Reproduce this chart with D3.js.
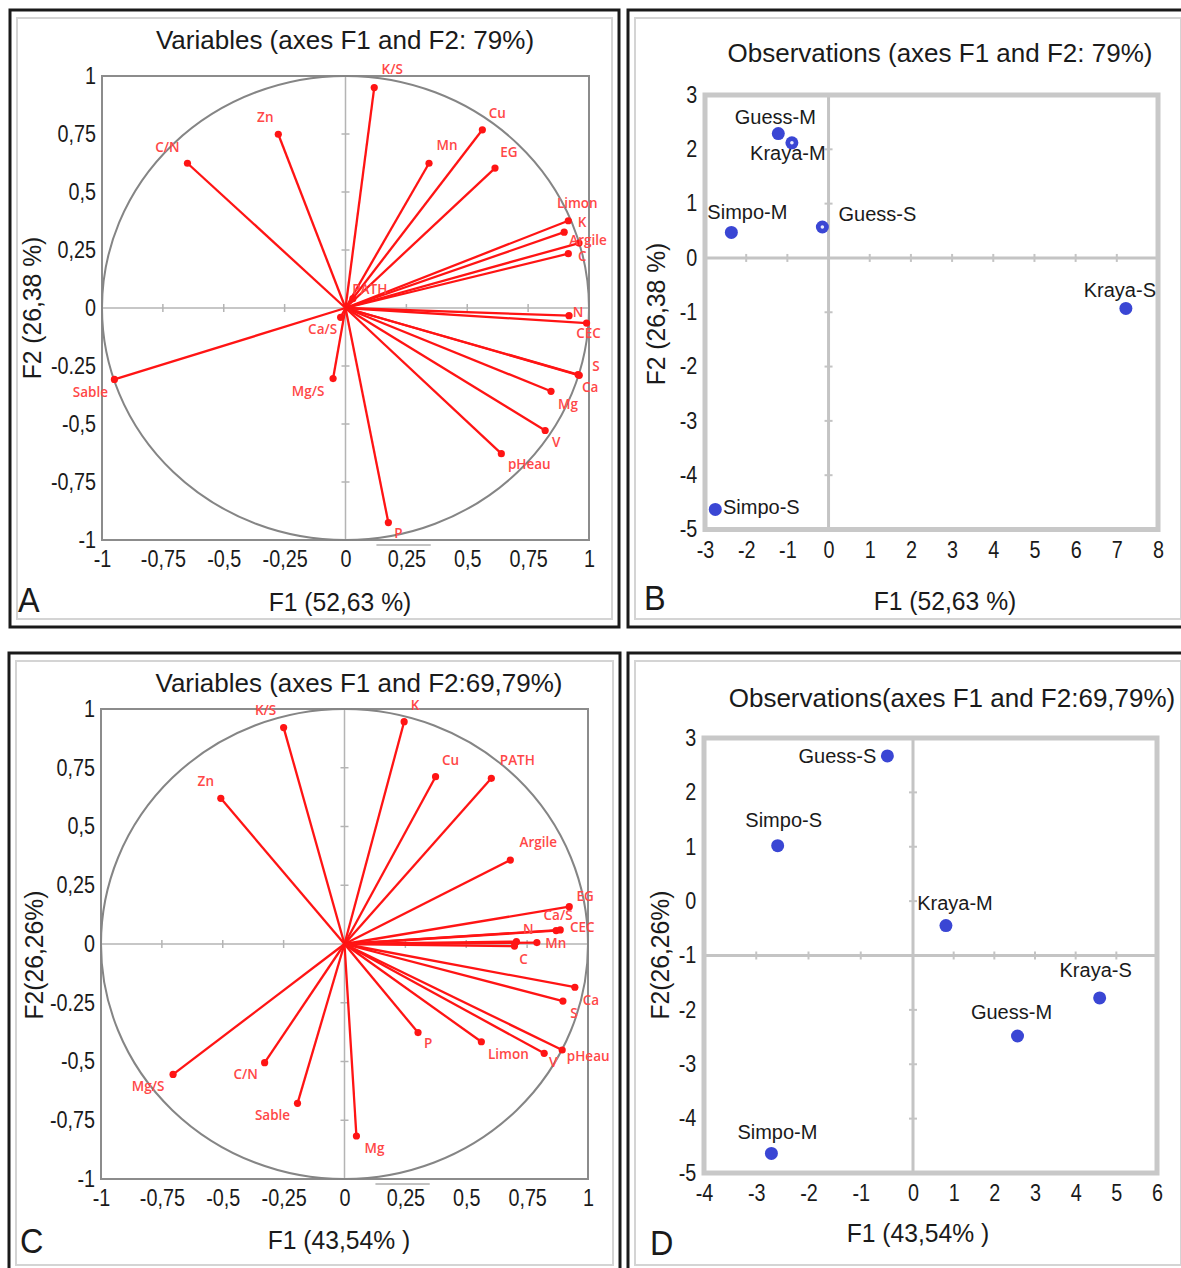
<!DOCTYPE html>
<html>
<head>
<meta charset="utf-8">
<script src="https://cdn.jsdelivr.net/npm/d3@7"></script>
<style>
  body { margin: 0; background: #fff; }
</style>
</head>
<body>
<svg id="chart" width="1181" height="1268"></svg>
<script>
// ---------- data ----------
// A : variables, axes F1 and F2 (79 %)
const varsA = ["K/S","Zn","C/N","Cu","Mn","EG","Limon","K","Argile","C","PATH","N","CEC","S","Ca","Mg","V","pHeau","P","Mg/S","Ca/S","Sable"];
const f1A = [0.118,-0.276,-0.649,0.562,0.343,0.614,0.915,0.898,0.959,0.915,0.03,0.918,0.99,0.955,0.96,0.844,0.82,0.64,0.176,-0.051,-0.02,-0.949];
const f2A = [0.95,0.749,0.624,0.768,0.624,0.603,0.376,0.327,0.28,0.234,0.04,-0.033,-0.065,-0.287,-0.29,-0.359,-0.528,-0.628,-0.925,-0.304,-0.04,-0.308];

// B : observations, axes F1 and F2 (79 %)
const obsB = ["Guess-M","Kraya-M","Simpo-M","Guess-S","Kraya-S","Simpo-S"];
const f1B = [-1.22,-0.89,-2.36,-0.15,7.22,-2.75];
const f2B = [2.29,2.12,0.47,0.57,-0.93,-4.63];

// C : variables, axes F1 and F2 (69,79 %)
const varsC = ["K/S","K","Zn","Cu","PATH","Argile","EG","Ca/S","CEC","N","Mn","C","Ca","S","P","Limon","V","pHeau","Mg/S","C/N","Sable","Mg"];
const f1C = [-0.25,0.245,-0.508,0.374,0.603,0.681,0.923,0.869,0.886,0.706,0.79,0.698,0.946,0.897,0.302,0.562,0.82,0.894,-0.704,-0.328,-0.193,0.049];
const f2C = [0.921,0.946,0.62,0.712,0.705,0.357,0.159,0.057,0.06,0.01,0.006,-0.009,-0.184,-0.243,-0.377,-0.416,-0.465,-0.451,-0.555,-0.505,-0.678,-0.817];

// D : observations, axes F1 and F2 (69,79 %)
const obsD = ["Guess-S","Simpo-S","Kraya-M","Kraya-S","Guess-M","Simpo-M"];
const f1D = [-0.49,-2.59,0.81,4.59,2.57,-2.71];
const f2D = [2.67,1.02,-0.45,-1.78,-2.48,-4.64];

// ticks
const circleTicks = [-1,-0.75,-0.5,-0.25,0,0.25,0.5,0.75,1];
const circleXLabels = ["-1","-0,75","-0,5","-0,25","0","0,25","0,5","0,75","1"];
const circleYLabels = ["-1","-0,75","-0,5","-0.25","0","0,25","0,5","0,75","1"];
const ticksBx = [-3,-2,-1,0,1,2,3,4,5,6,7,8];
const ticksBy = [-5,-4,-3,-2,-1,0,1,2,3];
const ticksDx = [-4,-3,-2,-1,0,1,2,3,4,5,6];
const ticksDy = [-5,-4,-3,-2,-1,0,1,2,3];

// ---------- label placement (px offset from the point) ----------
const labOffA = {
  "K/S":[18,-18], "Zn":[-13,-17], "C/N":[-20,-16], "Cu":[15,-17], "Mn":[18,-18], "EG":[14,-16],
  "Limon":[9,-17], "K":[18,-10], "Argile":[9,-3], "C":[14,3], "PATH":[17,-9], "N":[9,-3],
  "CEC":[2,10], "S":[18,-8], "Ca":[11,12], "Mg":[17,13], "V":[11,12], "pHeau":[28,11],
  "P":[10,11], "Mg/S":[-25,13], "Ca/S":[-18,12], "Sable":[-24,13]
};
const labOffC = {
  "K/S":[-18,-17], "K":[11,-16], "Zn":[-15,-17], "Cu":[15,-16], "PATH":[26,-18], "Argile":[28,-18],
  "EG":[16,-10], "Ca/S":[2,-15], "CEC":[22,-3], "N":[12,-12], "Mn":[19,1], "C":[9,13],
  "Ca":[16,13], "S":[11,12], "P":[10,11], "Limon":[27,13], "V":[9,9], "pHeau":[26,6],
  "Mg/S":[-25,12], "C/N":[-19,12], "Sable":[-25,12], "Mg":[18,12]
};
const labOffB = {
  "Guess-M":[-3,-17], "Kraya-M":[-4,10], "Simpo-M":[16,-20],
  "Guess-S":[55,-13], "Kraya-S":[-6,-18], "Simpo-S":[46,-2]
};
const labOffD = {
  "Guess-S":[-50,0], "Simpo-S":[6,-26], "Kraya-M":[9,-23],
  "Kraya-S":[-4,-28], "Guess-M":[-6,-24], "Simpo-M":[6,-21]
};
// markers drawn with a small light centre in the source
const ringedB = ["Kraya-M", "Guess-S"];

const FONT = '"Liberation Sans", Arial, sans-serif';
const RED_FONT = '"Open Sans", "DejaVu Sans", sans-serif';
const NARROW_X = 0.86;   // tick labels are a condensed face in the source
const svg = d3.select("#chart");

// panel boxes (black outer line + light inner line)
const boxes = [
  { x: 10, y: 10, w: 609, h: 617 },
  { x: 628, y: 10, w: 560, h: 617 },
  { x: 9, y: 653, w: 611, h: 620 },
  { x: 628, y: 653, w: 560, h: 620 }
];
boxes.forEach(b => {
  svg.append("rect").attr("x", b.x).attr("y", b.y).attr("width", b.w).attr("height", b.h)
    .attr("fill", "none").attr("stroke", "#1a1a1a").attr("stroke-width", 3);
  svg.append("rect").attr("x", b.x + 7).attr("y", b.y + 8).attr("width", b.w - 14).attr("height", b.h - 16)
    .attr("fill", "none").attr("stroke", "#d4d4d4").attr("stroke-width", 2);
});

const addText = (txt, x, y, size, opts = {}) => {
  const sx = opts.sx || 1;
  const rot = opts.rotate ? " rotate(-90)" : "";
  return svg.append("text").text(txt)
    .attr("transform", `translate(${x},${y})${rot} scale(${sx},1)`)
    .attr("font-family", FONT).attr("font-size", size)
    .attr("fill", "#1a1a1a").attr("text-anchor", opts.anchor || "middle");
};

const styleTicks = (sel) => {
  sel.attr("font-family", FONT).attr("font-size", 23);
  sel.selectAll("text").attr("fill", "#1a1a1a").attr("transform", `scale(${NARROW_X},1)`);
};

// ---------- correlation circle ----------
const drawCircle = (names, f1, f2, offsets, xRange, yRange, yLabels) => {
  const x = d3.scaleLinear().domain([-1, 1]).range(xRange);
  const y = d3.scaleLinear().domain([-1, 1]).range(yRange);
  const g = svg.append("g");

  g.append("rect")
    .attr("x", x(-1)).attr("y", y(1))
    .attr("width", x(1) - x(-1)).attr("height", y(-1) - y(1))
    .attr("fill", "none").attr("stroke", "#8c8c8c").attr("stroke-width", 2);

  // stray grey bar under the 0,25 label in the source
  g.append("line").attr("x1", x(0.127)).attr("x2", x(0.35)).attr("y1", y(-1) + 5).attr("y2", y(-1) + 5)
    .attr("stroke", "#c2c2c2").attr("stroke-width", 2);

  g.append("line").attr("x1", x(-1)).attr("x2", x(1)).attr("y1", y(0)).attr("y2", y(0))
    .attr("stroke", "#b4b4b4").attr("stroke-width", 1.5);
  g.append("line").attr("x1", x(0)).attr("x2", x(0)).attr("y1", y(1)).attr("y2", y(-1))
    .attr("stroke", "#b4b4b4").attr("stroke-width", 1.5);

  const inner = circleTicks.filter(d => d !== 0 && Math.abs(d) !== 1);
  g.selectAll(".tx").data(inner).join("line")
    .attr("x1", d => x(d)).attr("x2", d => x(d)).attr("y1", y(0) - 4).attr("y2", y(0) + 4)
    .attr("stroke", "#b4b4b4").attr("stroke-width", 1.5);
  g.selectAll(".ty").data(inner).join("line")
    .attr("y1", d => y(d)).attr("y2", d => y(d)).attr("x1", x(0) - 4).attr("x2", x(0) + 4)
    .attr("stroke", "#b4b4b4").attr("stroke-width", 1.5);

  g.append("ellipse")
    .attr("cx", x(0)).attr("cy", y(0))
    .attr("rx", x(1) - x(0)).attr("ry", y(-1) - y(0))
    .attr("fill", "none").attr("stroke", "#858585").attr("stroke-width", 2);

  g.append("g").attr("transform", `translate(0,${y(-1)})`)
    .call(d3.axisBottom(x).tickValues(circleTicks).tickFormat((d, i) => circleXLabels[i]).tickSize(0).tickPadding(11))
    .call(a => a.select(".domain").remove())
    .call(styleTicks);

  g.append("g").attr("transform", `translate(${x(-1)},0)`)
    .call(d3.axisLeft(y).tickValues(circleTicks).tickFormat((d, i) => yLabels[i]).tickSize(0).tickPadding(7))
    .call(a => a.select(".domain").remove())
    .call(styleTicks);

  const rows = names.map((n, i) => ({ n, a: f1[i], b: f2[i] }));

  g.selectAll(".vec").data(rows).join("line")
    .attr("x1", x(0)).attr("y1", y(0))
    .attr("x2", d => x(d.a)).attr("y2", d => y(d.b))
    .attr("stroke", "#ff1414").attr("stroke-width", 2.3);

  g.selectAll(".end").data(rows).join("circle")
    .attr("cx", d => x(d.a)).attr("cy", d => y(d.b)).attr("r", 3.6)
    .attr("fill", "#ff1414");

  g.selectAll(".lab").data(rows).join("text")
    .text(d => d.n)
    .attr("x", d => x(d.a) + offsets[d.n][0])
    .attr("y", d => y(d.b) + offsets[d.n][1])
    .attr("dy", "0.35em")
    .attr("text-anchor", "middle")
    .attr("font-family", RED_FONT)
    .attr("font-weight", 600)
    .attr("font-size", 13.5)
    .attr("fill", "#ff4747");
};

// ---------- observation scatter ----------
const drawScatter = (names, f1, f2, offsets, x, y, xTicks, yTicks, hLineAt, ringed) => {
  const g = svg.append("g");
  const xr = x.range();
  const x0 = xr[0], x1 = xr[xr.length - 1];
  const [yb, yt] = y.range();

  g.append("line").attr("x1", x(0)).attr("x2", x(0)).attr("y1", yt).attr("y2", yb)
    .attr("stroke", "#c4c4c4").attr("stroke-width", 3);
  g.append("line").attr("x1", x0).attr("x2", x1).attr("y1", y(hLineAt)).attr("y2", y(hLineAt))
    .attr("stroke", "#c4c4c4").attr("stroke-width", 3);

  g.selectAll(".tx").data(xTicks.filter(d => d !== 0)).join("line")
    .attr("x1", d => x(d)).attr("x2", d => x(d)).attr("y1", y(hLineAt) - 4).attr("y2", y(hLineAt) + 4)
    .attr("stroke", "#c4c4c4").attr("stroke-width", 2);
  g.selectAll(".ty").data(yTicks.filter(d => d !== hLineAt)).join("line")
    .attr("y1", d => y(d)).attr("y2", d => y(d)).attr("x1", x(0) - 4).attr("x2", x(0) + 4)
    .attr("stroke", "#c4c4c4").attr("stroke-width", 2);

  g.append("rect").attr("x", x0).attr("y", yt).attr("width", x1 - x0).attr("height", yb - yt)
    .attr("fill", "none").attr("stroke", "#c8c8c8").attr("stroke-width", 5);

  g.append("g").attr("transform", `translate(0,${yb})`)
    .call(d3.axisBottom(x).tickValues(xTicks).tickFormat(d => String(d)).tickSize(0).tickPadding(12))
    .call(a => a.select(".domain").remove())
    .call(styleTicks);

  g.append("g").attr("transform", `translate(${x0},0)`)
    .call(d3.axisLeft(y).tickValues(yTicks).tickFormat(d => String(d)).tickSize(0).tickPadding(9))
    .call(a => a.select(".domain").remove())
    .call(styleTicks);

  const rows = names.map((n, i) => ({ n, a: f1[i], b: f2[i] }));

  g.selectAll(".pt").data(rows).join("circle")
    .attr("cx", d => x(d.a)).attr("cy", d => y(d.b)).attr("r", 6.5)
    .attr("fill", "#3a46d4");

  g.selectAll(".ring").data(rows.filter(d => ringed.includes(d.n))).join("circle")
    .attr("cx", d => x(d.a)).attr("cy", d => y(d.b)).attr("r", 1.8)
    .attr("fill", "#e8eaff");

  g.selectAll(".lab").data(rows).join("text")
    .text(d => d.n)
    .attr("x", d => x(d.a) + offsets[d.n][0])
    .attr("y", d => y(d.b) + offsets[d.n][1])
    .attr("dy", "0.35em")
    .attr("text-anchor", "middle")
    .attr("font-family", FONT)
    .attr("font-size", 20)
    .attr("fill", "#1a1a1a");
};

// ----- A -----
drawCircle(varsA, f1A, f2A, labOffA, [102, 589], [540, 76], circleYLabels);
addText("Variables (axes F1 and F2: 79%)", 345, 49, 26);
addText("F1 (52,63 %)", 340, 611, 26, { sx: 0.95 });
addText("F2 (26,38 %)", 41, 308, 26, { rotate: true, sx: 0.95 });
addText("A", 18, 612, 36, { anchor: "start", sx: 0.9 });

// ----- B -----
const xB = d3.scaleLinear().domain([-3, 8]).range([705, 1158]);
const yB = d3.scaleLinear().domain([-5, 3]).range([529.5, 95]);
drawScatter(obsB, f1B, f2B, labOffB, xB, yB, ticksBx, ticksBy, 0, ringedB);
addText("Observations (axes F1 and F2: 79%)", 940, 62, 26);
addText("F1 (52,63 %)", 945, 610, 26, { sx: 0.95 });
addText("F2 (26,38 %)", 665, 314, 26, { rotate: true, sx: 0.95 });
addText("B", 644, 610, 36, { anchor: "start", sx: 0.9 });

// ----- C -----
drawCircle(varsC, f1C, f2C, labOffC, [101, 588], [1179, 709], circleYLabels);
addText("Variables (axes F1 and F2:69,79%)", 359, 692, 26);
addText("F1 (43,54% )", 339, 1249, 26, { sx: 0.95 });
addText("F2(26,26%)", 43, 955, 26, { rotate: true, sx: 0.95 });
addText("C", 20, 1253, 36, { anchor: "start", sx: 0.9 });

// ----- D -----
// the source figure's left tick labels are squeezed, so the F1 scale is piecewise
const xD = d3.scaleLinear().domain([-4, 0, 6]).range([704, 913, 1157]);
const yD = d3.scaleLinear().domain([-5, 3]).range([1173, 738]);
drawScatter(obsD, f1D, f2D, labOffD, xD, yD, ticksDx, ticksDy, -1, []);
addText("Observations(axes F1 and F2:69,79%)", 952, 707, 26);
addText("F1 (43,54% )", 918, 1242, 26, { sx: 0.95 });
addText("F2(26,26%)", 669, 955, 26, { rotate: true, sx: 0.95 });
addText("D", 650, 1255, 36, { anchor: "start", sx: 0.9 });
</script>
</body>
</html>
